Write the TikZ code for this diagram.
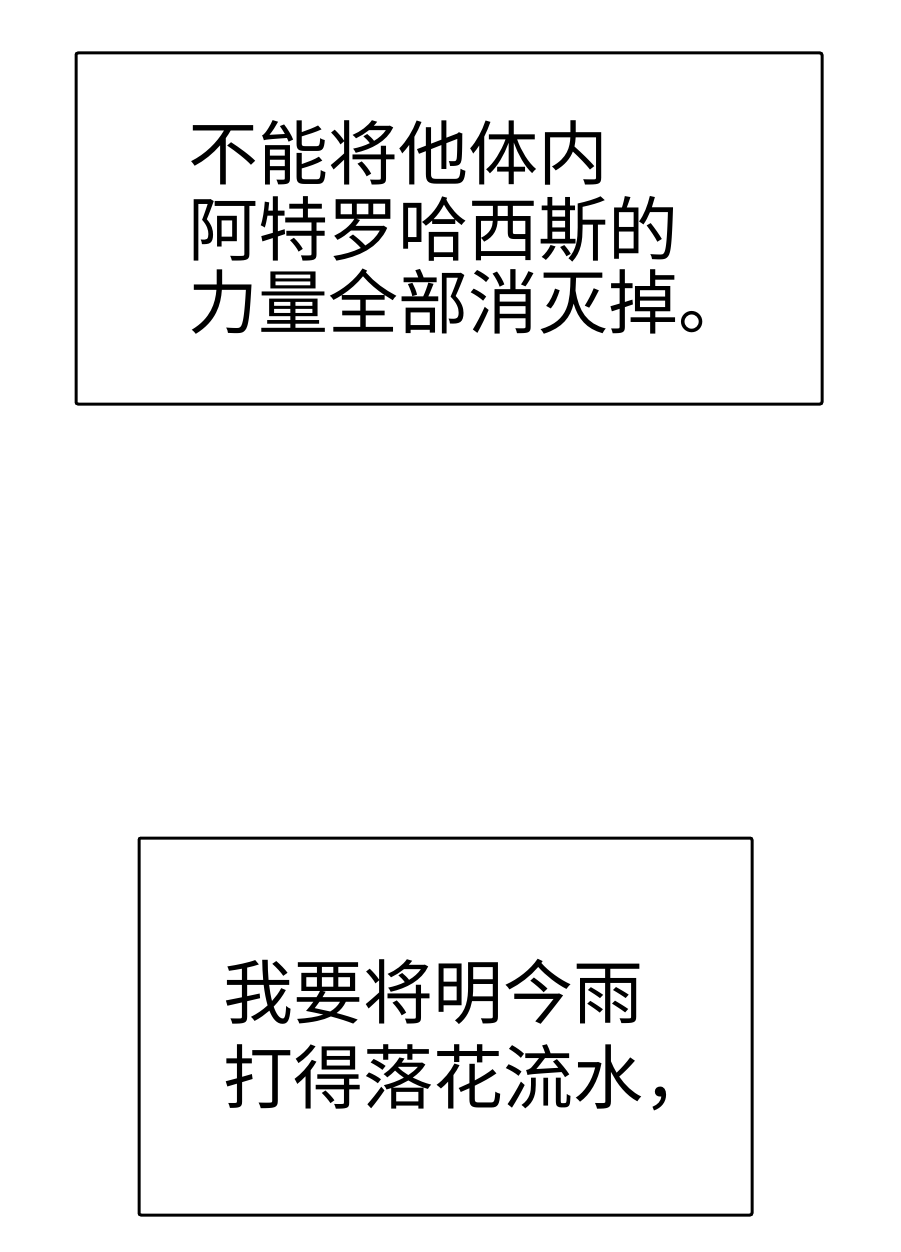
\documentclass[tikz,border=0pt]{standalone}
\usepackage{fontspec}
\newfontfamily\cjk{Noto Sans CJK SC}
\begin{document}
\begin{tikzpicture}[x=1pt,y=-1pt,
  box/.style={draw=black,line width=3pt,rounded corners=2pt},
  txt/.style={anchor=west,inner sep=0pt,font=\cjk\fontsize{70}{70}\selectfont}]
\useasboundingbox (0,0) rectangle (900,1252);
\draw[box] (76,53) rectangle (822,404);
\node[txt] (a1) at (188,153) {不能将他体内};
\node[txt] (a2) at (188,229) {阿特罗哈西斯的};
\node[txt] (a3) at (188,302) {力量全部消灭掉。};
\draw[box] (139,838) rectangle (752,1215);
\node[txt] (b1) at (223,992) {我要将明今雨};
\node[txt] (b2) at (223,1078) {打得落花流水，};
\end{tikzpicture}
\end{document}
